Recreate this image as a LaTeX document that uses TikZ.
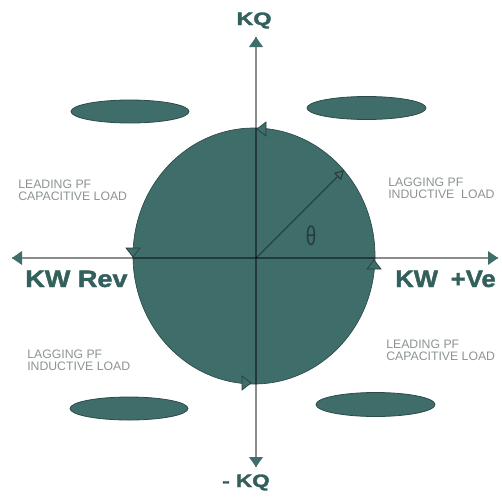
\documentclass[tikz,border=0pt]{standalone}
\usepackage{fontspec}
\setmainfont{Liberation Sans}
\newfontfamily\heavyfont[FakeBold=1.6]{Liberation Sans Bold}
\usetikzlibrary{arrows.meta,shapes.geometric}
\definecolor{tealfill}{HTML}{3F6D69}
\definecolor{tealedge}{HTML}{2C4B48}
\definecolor{tealtext}{HTML}{33605C}
\definecolor{graytext}{HTML}{8C9393}
\definecolor{darkline}{HTML}{253D3B}
\tikzset{
  blob/.style={ellipse, fill=tealfill, draw=tealedge, line width=0.6pt, inner sep=0pt},
  axisline/.style={draw=black, draw opacity=0.45, line width=1.1pt},
  tristyle/.style={fill=tealfill, draw=darkline, line width=0.5pt, line join=miter},
  axtip/.pic={\fill[tealfill] (0,0) -- (-10,7) -- (-10,-7) -- cycle;},
  cirtri/.pic={\filldraw[tristyle] (5,0) -- (-4,7) -- (-4,-7) -- cycle;},
  biglabel/.style={text=tealtext, font=\fontsize{17.8}{20}\heavyfont, inner sep=0pt},
  smalllabel/.style={text=graytext, font=\fontsize{9.2}{9}\selectfont, align=left, inner sep=0pt, anchor=north west},
}
\begin{document}
\begin{tikzpicture}[x=0.75pt,y=-0.75pt]
\useasboundingbox (0,0) rectangle (502,496);
% coordinates
\coordinate (O) at (256,258);
\coordinate (L) at (12,258);
\coordinate (R) at (498,258);
\coordinate (T) at (256,37);
\coordinate (B) at (256,467);
\coordinate (P) at (344,170);
% main circle
\node (circ) [ellipse, fill=tealfill, draw=tealedge, line width=0.5pt, inner sep=0pt,
  minimum width=181.5pt, minimum height=192pt] at (254,256) {};
% radius vector
\draw[darkline, line width=0.8pt, -{Triangle[length=7pt,width=7.5pt,fill=tealfill]}] (O) -- (P);
\node (theta) [text=darkline, font=\fontsize{14}{14}\selectfont, yscale=1.45, inner sep=0pt] at (311,236) {θ};
% axes
\draw[axisline] (L) -- (R);
\draw[axisline] (T) -- (B);
\pic[rotate=180] at (L) {axtip};
\pic at (R) {axtip};
\pic[rotate=90] at (T) {axtip};
\pic[rotate=270] at (B) {axtip};
% rotation marks on the circle
\coordinate (c1) at (262,129);
\coordinate (c2) at (133,252);
\coordinate (c3) at (246,383);
\coordinate (c4) at (374,265);
\pic[rotate=180] at (c1) {cirtri};
\pic[rotate=270] at (c2) {cirtri};
\pic at (c3) {cirtri};
\pic[rotate=90] at (c4) {cirtri};
% ellipses
\node (e1) [blob, minimum width=88.5pt, minimum height=17.25pt] at (130,111.5) {};
\node (e2) [blob, minimum width=89.25pt, minimum height=17.25pt] at (366.5,108) {};
\node (e3) [blob, minimum width=88.5pt, minimum height=17.25pt] at (129,408.5) {};
\node (e4) [blob, minimum width=89.25pt, minimum height=18pt] at (375.5,404.5) {};
% axis labels
\node (kq) [biglabel, anchor=base, font=\fontsize{13.5}{15}\heavyfont, xscale=1.3] at (254,25) {KQ};
\node (mkq) [biglabel, anchor=base, font=\fontsize{13.5}{15}\heavyfont, xscale=1.25] at (246,487) {- KQ};
\node (kwrev) [biglabel, anchor=base west, xscale=1.14] at (25,287) {KW Rev};
\node (kwve) [biglabel, anchor=base west, xscale=1.08] at (395,287) {KW\hspace{0.5em}+Ve};
% quadrant labels
\node (q2) [smalllabel] at (18,180) {LEADING PF\\CAPACITIVE LOAD};
\node (q1) [smalllabel] at (388,178) {LAGGING PF\\INDUCTIVE\ \ LOAD};
\node (q3) [smalllabel] at (27,350) {LAGGING PF\\INDUCTIVE LOAD};
\node (q4) [smalllabel] at (386,340) {LEADING PF\\CAPACITIVE LOAD};
\end{tikzpicture}
\end{document}
